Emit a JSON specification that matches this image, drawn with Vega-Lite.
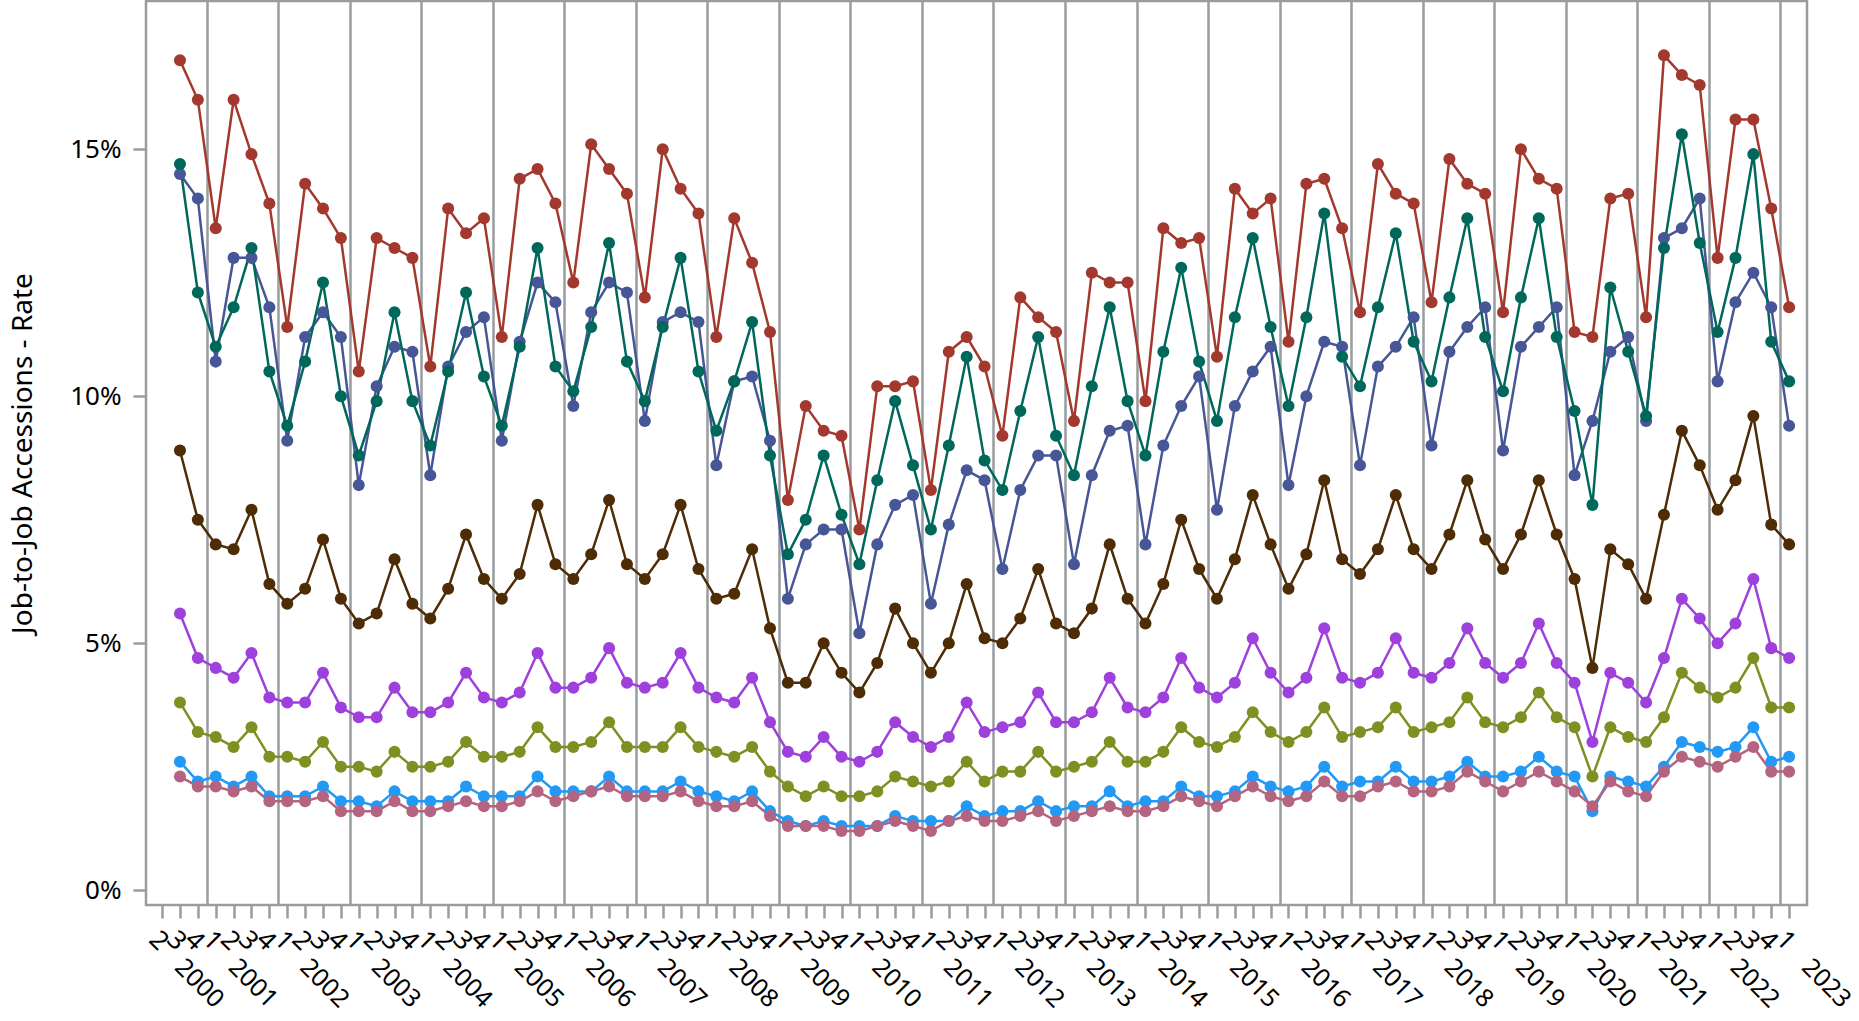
{
  "$schema": "https://vega.github.io/schema/vega-lite/v6.json",
  "width": 1661,
  "height": 904,
  "autosize": {"type": "none"},
  "padding": {"left": 146, "top": 1, "right": 52, "bottom": 116},
  "background": "white",
  "config": {
    "font": "Noto Sans",
    "view": {"stroke": "#979ca1", "strokeWidth": 2.5},
    "axis": {"labelFont": "Noto Sans", "titleFont": "Noto Sans", "labelColor": "#000000", "titleColor": "#000000"}
  },
  "data": {"values": [
    {"t":1,"a":16.8,"b":14.7,"c":14.5,"d":8.9,"e":5.6,"f":3.8,"g":2.6,"h":2.3},
    {"t":2,"a":16.0,"b":12.1,"c":14.0,"d":7.5,"e":4.7,"f":3.2,"g":2.2,"h":2.1},
    {"t":3,"a":13.4,"b":11.0,"c":10.7,"d":7.0,"e":4.5,"f":3.1,"g":2.3,"h":2.1},
    {"t":4,"a":16.0,"b":11.8,"c":12.8,"d":6.9,"e":4.3,"f":2.9,"g":2.1,"h":2.0},
    {"t":5,"a":14.9,"b":13.0,"c":12.8,"d":7.7,"e":4.8,"f":3.3,"g":2.3,"h":2.1},
    {"t":6,"a":13.9,"b":10.5,"c":11.8,"d":6.2,"e":3.9,"f":2.7,"g":1.9,"h":1.8},
    {"t":7,"a":11.4,"b":9.4,"c":9.1,"d":5.8,"e":3.8,"f":2.7,"g":1.9,"h":1.8},
    {"t":8,"a":14.3,"b":10.7,"c":11.2,"d":6.1,"e":3.8,"f":2.6,"g":1.9,"h":1.8},
    {"t":9,"a":13.8,"b":12.3,"c":11.7,"d":7.1,"e":4.4,"f":3.0,"g":2.1,"h":1.9},
    {"t":10,"a":13.2,"b":10.0,"c":11.2,"d":5.9,"e":3.7,"f":2.5,"g":1.8,"h":1.6},
    {"t":11,"a":10.5,"b":8.8,"c":8.2,"d":5.4,"e":3.5,"f":2.5,"g":1.8,"h":1.6},
    {"t":12,"a":13.2,"b":9.9,"c":10.2,"d":5.6,"e":3.5,"f":2.4,"g":1.7,"h":1.6},
    {"t":13,"a":13.0,"b":11.7,"c":11.0,"d":6.7,"e":4.1,"f":2.8,"g":2.0,"h":1.8},
    {"t":14,"a":12.8,"b":9.9,"c":10.9,"d":5.8,"e":3.6,"f":2.5,"g":1.8,"h":1.6},
    {"t":15,"a":10.6,"b":9.0,"c":8.4,"d":5.5,"e":3.6,"f":2.5,"g":1.8,"h":1.6},
    {"t":16,"a":13.8,"b":10.5,"c":10.6,"d":6.1,"e":3.8,"f":2.6,"g":1.8,"h":1.7},
    {"t":17,"a":13.3,"b":12.1,"c":11.3,"d":7.2,"e":4.4,"f":3.0,"g":2.1,"h":1.8},
    {"t":18,"a":13.6,"b":10.4,"c":11.6,"d":6.3,"e":3.9,"f":2.7,"g":1.9,"h":1.7},
    {"t":19,"a":11.2,"b":9.4,"c":9.1,"d":5.9,"e":3.8,"f":2.7,"g":1.9,"h":1.7},
    {"t":20,"a":14.4,"b":11.0,"c":11.1,"d":6.4,"e":4.0,"f":2.8,"g":1.9,"h":1.8},
    {"t":21,"a":14.6,"b":13.0,"c":12.3,"d":7.8,"e":4.8,"f":3.3,"g":2.3,"h":2.0},
    {"t":22,"a":13.9,"b":10.6,"c":11.9,"d":6.6,"e":4.1,"f":2.9,"g":2.0,"h":1.8},
    {"t":23,"a":12.3,"b":10.1,"c":9.8,"d":6.3,"e":4.1,"f":2.9,"g":2.0,"h":1.9},
    {"t":24,"a":15.1,"b":11.4,"c":11.7,"d":6.8,"e":4.3,"f":3.0,"g":2.0,"h":2.0},
    {"t":25,"a":14.6,"b":13.1,"c":12.3,"d":7.9,"e":4.9,"f":3.4,"g":2.3,"h":2.1},
    {"t":26,"a":14.1,"b":10.7,"c":12.1,"d":6.6,"e":4.2,"f":2.9,"g":2.0,"h":1.9},
    {"t":27,"a":12.0,"b":9.9,"c":9.5,"d":6.3,"e":4.1,"f":2.9,"g":2.0,"h":1.9},
    {"t":28,"a":15.0,"b":11.4,"c":11.5,"d":6.8,"e":4.2,"f":2.9,"g":2.0,"h":1.9},
    {"t":29,"a":14.2,"b":12.8,"c":11.7,"d":7.8,"e":4.8,"f":3.3,"g":2.2,"h":2.0},
    {"t":30,"a":13.7,"b":10.5,"c":11.5,"d":6.5,"e":4.1,"f":2.9,"g":2.0,"h":1.8},
    {"t":31,"a":11.2,"b":9.3,"c":8.6,"d":5.9,"e":3.9,"f":2.8,"g":1.9,"h":1.7},
    {"t":32,"a":13.6,"b":10.3,"c":10.3,"d":6.0,"e":3.8,"f":2.7,"g":1.8,"h":1.7},
    {"t":33,"a":12.7,"b":11.5,"c":10.4,"d":6.9,"e":4.3,"f":2.9,"g":2.0,"h":1.8},
    {"t":34,"a":11.3,"b":8.8,"c":9.1,"d":5.3,"e":3.4,"f":2.4,"g":1.6,"h":1.5},
    {"t":35,"a":7.9,"b":6.8,"c":5.9,"d":4.2,"e":2.8,"f":2.1,"g":1.4,"h":1.3},
    {"t":36,"a":9.8,"b":7.5,"c":7.0,"d":4.2,"e":2.7,"f":1.9,"g":1.3,"h":1.3},
    {"t":37,"a":9.3,"b":8.8,"c":7.3,"d":5.0,"e":3.1,"f":2.1,"g":1.4,"h":1.3},
    {"t":38,"a":9.2,"b":7.6,"c":7.3,"d":4.4,"e":2.7,"f":1.9,"g":1.3,"h":1.2},
    {"t":39,"a":7.3,"b":6.6,"c":5.2,"d":4.0,"e":2.6,"f":1.9,"g":1.3,"h":1.2},
    {"t":40,"a":10.2,"b":8.3,"c":7.0,"d":4.6,"e":2.8,"f":2.0,"g":1.3,"h":1.3},
    {"t":41,"a":10.2,"b":9.9,"c":7.8,"d":5.7,"e":3.4,"f":2.3,"g":1.5,"h":1.4},
    {"t":42,"a":10.3,"b":8.6,"c":8.0,"d":5.0,"e":3.1,"f":2.2,"g":1.4,"h":1.3},
    {"t":43,"a":8.1,"b":7.3,"c":5.8,"d":4.4,"e":2.9,"f":2.1,"g":1.4,"h":1.2},
    {"t":44,"a":10.9,"b":9.0,"c":7.4,"d":5.0,"e":3.1,"f":2.2,"g":1.4,"h":1.4},
    {"t":45,"a":11.2,"b":10.8,"c":8.5,"d":6.2,"e":3.8,"f":2.6,"g":1.7,"h":1.5},
    {"t":46,"a":10.6,"b":8.7,"c":8.3,"d":5.1,"e":3.2,"f":2.2,"g":1.5,"h":1.4},
    {"t":47,"a":9.2,"b":8.1,"c":6.5,"d":5.0,"e":3.3,"f":2.4,"g":1.6,"h":1.4},
    {"t":48,"a":12.0,"b":9.7,"c":8.1,"d":5.5,"e":3.4,"f":2.4,"g":1.6,"h":1.5},
    {"t":49,"a":11.6,"b":11.2,"c":8.8,"d":6.5,"e":4.0,"f":2.8,"g":1.8,"h":1.6},
    {"t":50,"a":11.3,"b":9.2,"c":8.8,"d":5.4,"e":3.4,"f":2.4,"g":1.6,"h":1.4},
    {"t":51,"a":9.5,"b":8.4,"c":6.6,"d":5.2,"e":3.4,"f":2.5,"g":1.7,"h":1.5},
    {"t":52,"a":12.5,"b":10.2,"c":8.4,"d":5.7,"e":3.6,"f":2.6,"g":1.7,"h":1.6},
    {"t":53,"a":12.3,"b":11.8,"c":9.3,"d":7.0,"e":4.3,"f":3.0,"g":2.0,"h":1.7},
    {"t":54,"a":12.3,"b":9.9,"c":9.4,"d":5.9,"e":3.7,"f":2.6,"g":1.7,"h":1.6},
    {"t":55,"a":9.9,"b":8.8,"c":7.0,"d":5.4,"e":3.6,"f":2.6,"g":1.8,"h":1.6},
    {"t":56,"a":13.4,"b":10.9,"c":9.0,"d":6.2,"e":3.9,"f":2.8,"g":1.8,"h":1.7},
    {"t":57,"a":13.1,"b":12.6,"c":9.8,"d":7.5,"e":4.7,"f":3.3,"g":2.1,"h":1.9},
    {"t":58,"a":13.2,"b":10.7,"c":10.4,"d":6.5,"e":4.1,"f":3.0,"g":1.9,"h":1.8},
    {"t":59,"a":10.8,"b":9.5,"c":7.7,"d":5.9,"e":3.9,"f":2.9,"g":1.9,"h":1.7},
    {"t":60,"a":14.2,"b":11.6,"c":9.8,"d":6.7,"e":4.2,"f":3.1,"g":2.0,"h":1.9},
    {"t":61,"a":13.7,"b":13.2,"c":10.5,"d":8.0,"e":5.1,"f":3.6,"g":2.3,"h":2.1},
    {"t":62,"a":14.0,"b":11.4,"c":11.0,"d":7.0,"e":4.4,"f":3.2,"g":2.1,"h":1.9},
    {"t":63,"a":11.1,"b":9.8,"c":8.2,"d":6.1,"e":4.0,"f":3.0,"g":2.0,"h":1.8},
    {"t":64,"a":14.3,"b":11.6,"c":10.0,"d":6.8,"e":4.3,"f":3.2,"g":2.1,"h":1.9},
    {"t":65,"a":14.4,"b":13.7,"c":11.1,"d":8.3,"e":5.3,"f":3.7,"g":2.5,"h":2.2},
    {"t":66,"a":13.4,"b":10.8,"c":11.0,"d":6.7,"e":4.3,"f":3.1,"g":2.1,"h":1.9},
    {"t":67,"a":11.7,"b":10.2,"c":8.6,"d":6.4,"e":4.2,"f":3.2,"g":2.2,"h":1.9},
    {"t":68,"a":14.7,"b":11.8,"c":10.6,"d":6.9,"e":4.4,"f":3.3,"g":2.2,"h":2.1},
    {"t":69,"a":14.1,"b":13.3,"c":11.0,"d":8.0,"e":5.1,"f":3.7,"g":2.5,"h":2.2},
    {"t":70,"a":13.9,"b":11.1,"c":11.6,"d":6.9,"e":4.4,"f":3.2,"g":2.2,"h":2.0},
    {"t":71,"a":11.9,"b":10.3,"c":9.0,"d":6.5,"e":4.3,"f":3.3,"g":2.2,"h":2.0},
    {"t":72,"a":14.8,"b":12.0,"c":10.9,"d":7.2,"e":4.6,"f":3.4,"g":2.3,"h":2.1},
    {"t":73,"a":14.3,"b":13.6,"c":11.4,"d":8.3,"e":5.3,"f":3.9,"g":2.6,"h":2.4},
    {"t":74,"a":14.1,"b":11.2,"c":11.8,"d":7.1,"e":4.6,"f":3.4,"g":2.3,"h":2.2},
    {"t":75,"a":11.7,"b":10.1,"c":8.9,"d":6.5,"e":4.3,"f":3.3,"g":2.3,"h":2.0},
    {"t":76,"a":15.0,"b":12.0,"c":11.0,"d":7.2,"e":4.6,"f":3.5,"g":2.4,"h":2.2},
    {"t":77,"a":14.4,"b":13.6,"c":11.4,"d":8.3,"e":5.4,"f":4.0,"g":2.7,"h":2.4},
    {"t":78,"a":14.2,"b":11.2,"c":11.8,"d":7.2,"e":4.6,"f":3.5,"g":2.4,"h":2.2},
    {"t":79,"a":11.3,"b":9.7,"c":8.4,"d":6.3,"e":4.2,"f":3.3,"g":2.3,"h":2.0},
    {"t":80,"a":11.2,"b":7.8,"c":9.5,"d":4.5,"e":3.0,"f":2.3,"g":1.6,"h":1.7},
    {"t":81,"a":14.0,"b":12.2,"c":10.9,"d":6.9,"e":4.4,"f":3.3,"g":2.3,"h":2.2},
    {"t":82,"a":14.1,"b":10.9,"c":11.2,"d":6.6,"e":4.2,"f":3.1,"g":2.2,"h":2.0},
    {"t":83,"a":11.6,"b":9.6,"c":9.5,"d":5.9,"e":3.8,"f":3.0,"g":2.1,"h":1.9},
    {"t":84,"a":16.9,"b":13.0,"c":13.2,"d":7.6,"e":4.7,"f":3.5,"g":2.5,"h":2.4},
    {"t":85,"a":16.5,"b":15.3,"c":13.4,"d":9.3,"e":5.9,"f":4.4,"g":3.0,"h":2.7},
    {"t":86,"a":16.3,"b":13.1,"c":14.0,"d":8.6,"e":5.5,"f":4.1,"g":2.9,"h":2.6},
    {"t":87,"a":12.8,"b":11.3,"c":10.3,"d":7.7,"e":5.0,"f":3.9,"g":2.8,"h":2.5},
    {"t":88,"a":15.6,"b":12.8,"c":11.9,"d":8.3,"e":5.4,"f":4.1,"g":2.9,"h":2.7},
    {"t":89,"a":15.6,"b":14.9,"c":12.5,"d":9.6,"e":6.3,"f":4.7,"g":3.3,"h":2.9},
    {"t":90,"a":13.8,"b":11.1,"c":11.8,"d":7.4,"e":4.9,"f":3.7,"g":2.6,"h":2.4},
    {"t":91,"a":11.8,"b":10.3,"c":9.4,"d":7.0,"e":4.7,"f":3.7,"g":2.7,"h":2.4}
  ]},
  "transform": [{"fold": ["c", "a", "b", "d", "e", "f", "g", "h"], "as": ["series", "rate"]}],
  "encoding": {
    "y": {
      "field": "rate", "type": "quantitative",
      "scale": {"domain": [-0.3, 18.0], "nice": false, "zero": false},
      "axis": {
        "values": [0, 5, 10, 15],
        "labelExpr": "datum.value + '%'",
        "grid": false,
        "domain": false,
        "tickSize": 13, "tickWidth": 2.5, "tickColor": "#979ca1",
        "labelFontSize": 26, "labelPadding": 12,
        "title": "Job-to-Job Accessions - Rate",
        "titleFontSize": 28, "titleFontWeight": "normal", "titlePadding": 32
      }
    },
    "color": {
      "field": "series", "type": "nominal",
      "scale": {
        "domain": ["a", "b", "c", "d", "e", "f", "g", "h"],
        "range": ["#A3392E", "#00685A", "#465696", "#4D2C06", "#9E40DC", "#808F22", "#2299F5", "#B46380"]
      },
      "legend": null
    }
  },
  "layer": [
    {
      "mark": {"type": "line", "strokeWidth": 2.5},
      "encoding": {
        "x": {
          "field": "t", "type": "quantitative",
          "scale": {"domain": [-0.9, 92.0], "nice": false, "zero": false},
          "axis": {
            "orient": "bottom",
            "values": [0,1,2,3,4,5,6,7,8,9,10,11,12,13,14,15,16,17,18,19,20,21,22,23,24,25,26,27,28,29,30,31,32,33,34,35,36,37,38,39,40,41,42,43,44,45,46,47,48,49,50,51,52,53,54,55,56,57,58,59,60,61,62,63,64,65,66,67,68,69,70,71,72,73,74,75,76,77,78,79,80,81,82,83,84,85,86,87,88,89,90,91],
            "labelExpr": "'' + ((datum.value + 1) % 4 + 1)",
            "labelAngle": 45, "labelAlign": "left", "labelBaseline": "top",
            "labelFontSize": 26, "labelPadding": 8,
            "labelOverlap": false, "labelFlush": false,
            "tickSize": 13, "tickWidth": 2.5, "tickColor": "#979ca1",
            "domain": false, "grid": false, "title": null
          }
        }
      }
    },
    {
      "mark": {"type": "circle", "size": 145, "opacity": 1},
      "encoding": {
        "x": {
          "field": "t", "type": "quantitative",
          "axis": {
            "orient": "bottom",
            "values": [-0.5, 2.5, 6.5, 10.5, 14.5, 18.5, 22.5, 26.5, 30.5, 34.5, 38.5, 42.5, 46.5, 50.5, 54.5, 58.5, 62.5, 66.5, 70.5, 74.5, 78.5, 82.5, 86.5, 90.5],
            "labelExpr": "datum.value < 0 ? '2000' : '' + (2001 + round((datum.value - 2.5) / 4))",
            "labelOffset": 34,
            "labelAngle": 45, "labelAlign": "left", "labelBaseline": "top",
            "labelFontSize": 25, "labelPadding": 49,
            "labelOverlap": false, "labelFlush": false, "labelBound": false,
            "ticks": false, "domain": false,
            "grid": true, "gridWidth": 2.5,
            "gridColor": {"condition": {"test": "datum.value < 0", "value": "transparent"}, "value": "#979ca1"},
            "title": null
          }
        }
      }
    }
  ],
  "resolve": {"axis": {"x": "independent"}}
}
